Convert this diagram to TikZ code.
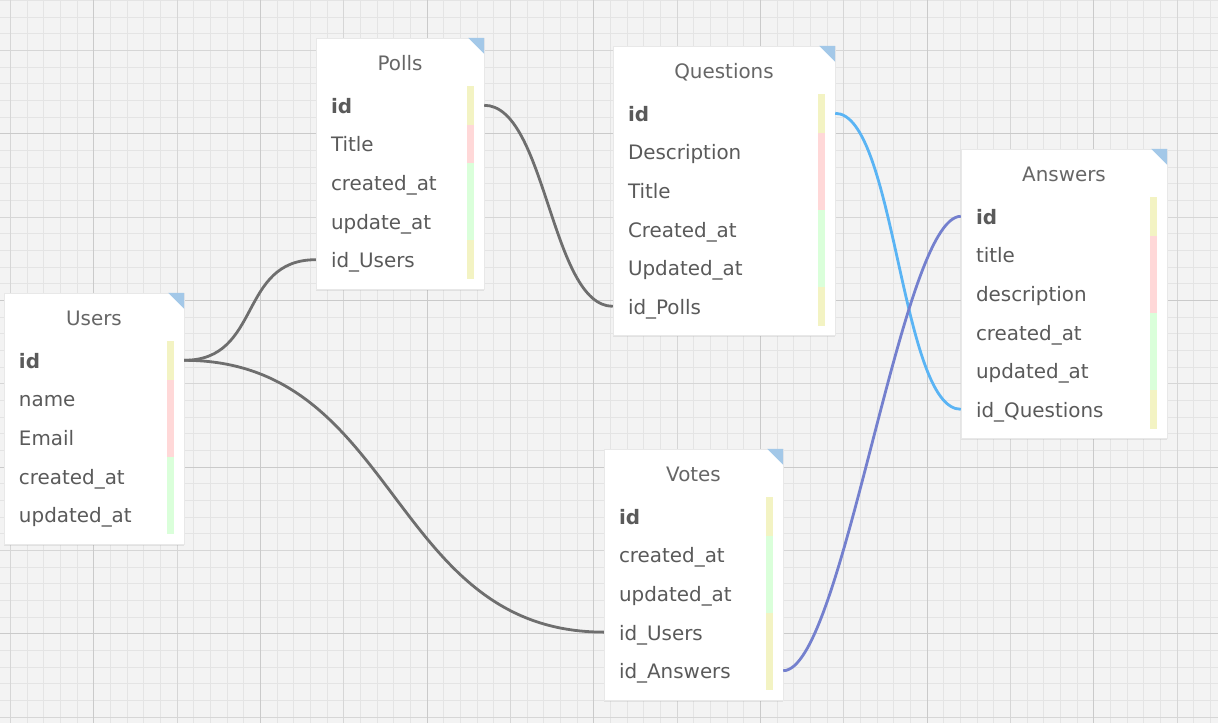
\documentclass[tikz,border=0pt]{standalone}
\usepackage{fontspec}
\setmainfont{DejaVu Sans}
\usepackage{tikz}
\usetikzlibrary{shadows}
\usepackage{xcolor}

\definecolor{bggray}{HTML}{F3F3F3}
\definecolor{gridminor}{HTML}{E4E4E4}
\definecolor{gridmid}{HTML}{D6D6D6}
\definecolor{gridmajor}{HTML}{CACACA}
\definecolor{cornerblue}{HTML}{A3C8E8}
\definecolor{rowgray}{HTML}{5A5A5A}
\definecolor{titlegray}{HTML}{666666}
\definecolor{rowyel}{HTML}{F3F3C3}
\definecolor{rowpink}{HTML}{FFD8D8}
\definecolor{rowgreen}{HTML}{DAFFDA}
\definecolor{linkgray}{HTML}{6E6E6E}
\definecolor{linkblue}{HTML}{5AB4F4}
\definecolor{linkpurple}{HTML}{7480CE}
\newcommand{\erdfont}{\fontsize{19.9}{23}\selectfont}

\begin{document}
\begin{tikzpicture}[x=1pt, y=-1pt,
  tbl/.style={fill=white, draw=black!9, inner sep=0pt,
    drop shadow={shadow xshift=0pt, shadow yshift=-1.5pt, opacity=0.15}},
  corner/.style={fill=cornerblue},
  ttl/.style={text=titlegray, font=\erdfont, text height=16pt, text depth=0pt, inner sep=0pt},
  row/.style={text=rowgray, font=\erdfont, align=left, inner xsep=15pt, inner ysep=0pt,
    minimum height=38.6pt, text height=16pt, text depth=0pt,
    path picture={\fill[#1] ([xshift=-17pt]path picture bounding box.north east)
      rectangle ([xshift=-10.5pt]path picture bounding box.south east);}},
  link/.style={line width=2.8pt, draw=linkgray}]

  % Background grid
  \useasboundingbox (0,0) rectangle (1218,723);
  \fill[bggray] (0,0) rectangle (1218,723);
  \foreach \i in {0,...,72} \draw[gridminor, line width=1pt] ({round(10+16.667*\i)+0.5},0) -- ({round(10+16.667*\i)+0.5},723);
  \foreach \j in {0,...,43} \draw[gridminor, line width=1pt] (0,{round(16.667*\j)+0.5}) -- (1218,{round(16.667*\j)+0.5});
  \foreach \i in {0,...,14} \draw[gridmid, line width=1pt] ({round(10+83.333*\i)+0.5},0) -- ({round(10+83.333*\i)+0.5},723);
  \foreach \j in {0,...,8} \draw[gridmid, line width=1pt] (0,{round(50+83.333*\j)+0.5}) -- (1218,{round(50+83.333*\j)+0.5});
  \foreach \i in {0,...,6} \draw[gridmajor, line width=1pt] ({round(93.333+166.667*\i)+0.5},0) -- ({round(93.333+166.667*\i)+0.5},723);
  \foreach \j in {0,...,3} \draw[gridmajor, line width=1pt] (0,{round(133.333+166.667*\j)+0.5}) -- (1218,{round(133.333+166.667*\j)+0.5});

  % Define table boxes
  \node[tbl, minimum width=180pt, minimum height=251pt] (users) at (94,418.5) {};
  \node[tbl, minimum width=168pt, minimum height=251pt] (polls) at (400,163.5) {};
  \node[tbl, minimum width=222pt, minimum height=289pt] (questions) at (724,190.5) {};
  \node[tbl, minimum width=206pt, minimum height=289pt] (answers) at (1064,293.5) {};
  \node[tbl, minimum width=179pt, minimum height=251pt] (votes) at (693.5,574.5) {};
  \fill[corner] (users.north east) -- ++(-16,0) -- ++(16,16) -- cycle;
  \fill[corner] (polls.north east) -- ++(-16,0) -- ++(16,16) -- cycle;
  \fill[corner] (questions.north east) -- ++(-16,0) -- ++(16,16) -- cycle;
  \fill[corner] (answers.north east) -- ++(-16,0) -- ++(16,16) -- cycle;
  \fill[corner] (votes.north east) -- ++(-16,0) -- ++(16,16) -- cycle;

  % Users
  \node[ttl] (users-t) at (94,317) {Users};
  \node[row=rowyel, text width=150pt] (users-id) at (94,360.3) {\textbf{id}};
  \node[row=rowpink, text width=150pt] (users-name) at (94,398.9) {name};
  \node[row=rowpink, text width=150pt] (users-email) at (94,437.5) {Email};
  \node[row=rowgreen, text width=150pt] (users-created) at (94,476.1) {created\_at};
  \node[row=rowgreen, text width=150pt] (users-updated) at (94,514.7) {updated\_at};

  % Polls
  \node[ttl] (polls-t) at (400,62) {Polls};
  \node[row=rowyel, text width=138pt] (polls-id) at (400,105.3) {\textbf{id}};
  \node[row=rowpink, text width=138pt] (polls-title) at (400,143.9) {Title};
  \node[row=rowgreen, text width=138pt] (polls-created) at (400,182.5) {created\_at};
  \node[row=rowgreen, text width=138pt] (polls-update) at (400,221.1) {update\_at};
  \node[row=rowyel, text width=138pt] (polls-idusers) at (400,259.7) {id\_Users};

  % Questions
  \node[ttl] (questions-t) at (724,70) {Questions};
  \node[row=rowyel, text width=192pt] (questions-id) at (724,113.3) {\textbf{id}};
  \node[row=rowpink, text width=192pt] (questions-desc) at (724,151.9) {Description};
  \node[row=rowpink, text width=192pt] (questions-title) at (724,190.5) {Title};
  \node[row=rowgreen, text width=192pt] (questions-created) at (724,229.1) {Created\_at};
  \node[row=rowgreen, text width=192pt] (questions-updated) at (724,267.7) {Updated\_at};
  \node[row=rowyel, text width=192pt] (questions-idpolls) at (724,306.3) {id\_Polls};

  % Answers
  \node[ttl] (answers-t) at (1064,173) {Answers};
  \node[row=rowyel, text width=176pt] (answers-id) at (1064,216.3) {\textbf{id}};
  \node[row=rowpink, text width=176pt] (answers-title) at (1064,254.9) {title};
  \node[row=rowpink, text width=176pt] (answers-desc) at (1064,293.5) {description};
  \node[row=rowgreen, text width=176pt] (answers-created) at (1064,332.1) {created\_at};
  \node[row=rowgreen, text width=176pt] (answers-updated) at (1064,370.7) {updated\_at};
  \node[row=rowyel, text width=176pt] (answers-idquestions) at (1064,409.3) {id\_Questions};

  % Votes
  \node[ttl] (votes-t) at (693.5,473) {Votes};
  \node[row=rowyel, text width=149pt] (votes-id) at (693.5,516.3) {\textbf{id}};
  \node[row=rowgreen, text width=149pt] (votes-created) at (693.5,554.9) {created\_at};
  \node[row=rowgreen, text width=149pt] (votes-updated) at (693.5,593.5) {updated\_at};
  \node[row=rowyel, text width=149pt] (votes-idusers) at (693.5,632.1) {id\_Users};
  \node[row=rowyel, text width=149pt] (votes-idanswers) at (693.5,670.7) {id\_Answers};

  % Draw relations
  \draw[link] (users-id.east) .. controls +(78,0) and +(-78,0) .. (polls-idusers.west);
  \draw[link] (users-id.east) .. controls +(215,0) and +(-215,0) .. (votes-idusers.west);
  \draw[link] (polls-id.east) .. controls +(62,0) and +(-62,0) .. (questions-idpolls.west);
  \draw[link, draw=linkblue] (questions-id.east) .. controls +(60,0) and +(-60,0) .. (answers-idquestions.west);
  \draw[link, draw=linkpurple] (answers-id.west) .. controls +(-60,0) and +(60,0) .. (votes-idanswers.east);
\end{tikzpicture}
\end{document}
